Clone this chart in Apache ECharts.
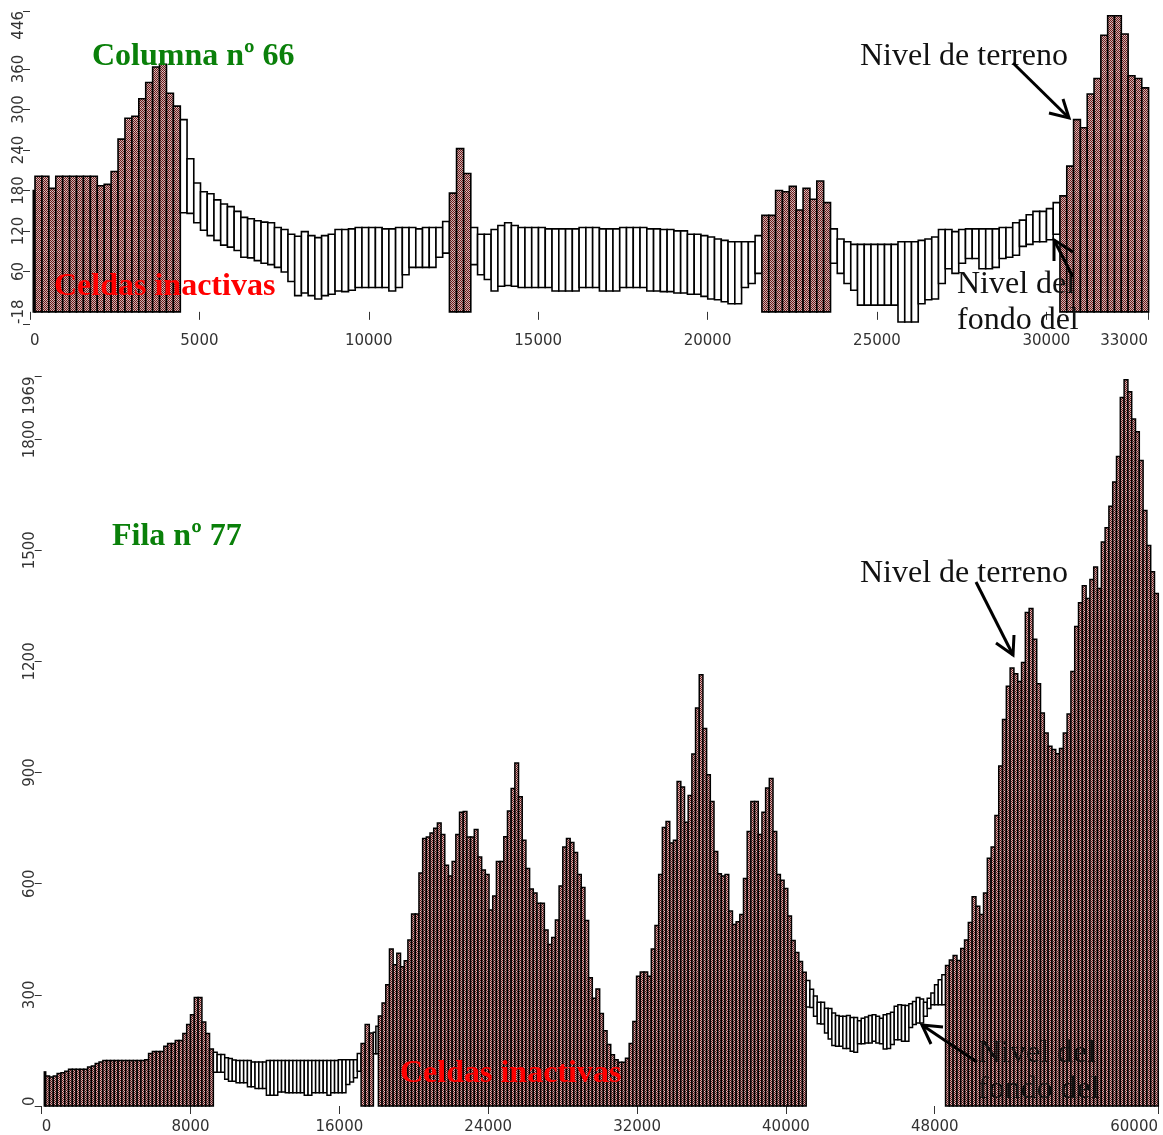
<!DOCTYPE html>
<html><head><meta charset="utf-8">
<style>html,body{margin:0;padding:0;background:#fff}#c{width:1163px;height:1135px}</style>
<script src="https://cdn.jsdelivr.net/npm/echarts@6/dist/echarts.min.js"></script>
</head><body><div id="c"></div>
<script>
// ---- Columna nº 66: cell limits (metres) and levels (m)
const columnaEdges = [97,148,4437,12380,13011,21603,23629,30401,33017];
const columnaA0 = [180];
const columnaA1 = [201,201,183,201,201,201,201,201,201,187,189,208,256,287,290,316,340,363,367,324,305];
const columnaW1Top = [285,227,191,178,175,166,160,156,149,140,138,135,133,132,125,122,115,112,119,113,110,113,115,122,122,123,125,125,125,125,123,123,125,125,125,123,125,125,125,134];
const columnaW1Bot = [147,146,132,121,113,106,99,96,91,81,80,76,72,70,66,59,45,24,28,24,19,24,26,31,30,32,36,36,36,36,36,31,36,55,66,66,66,66,81,87];
const columnaA2 = [176,242,205];
const columnaW2Top = [125,115,115,122,128,132,128,125,125,125,125,123,123,123,123,123,125,125,125,123,123,123,125,125,125,125,123,123,122,122,120,120,115,115,113,111,108,106,104,104,104,104,113];
const columnaW2Bot = [70,55,48,31,38,39,38,36,36,36,36,36,31,31,31,31,36,36,36,31,31,31,36,36,36,36,31,31,30,30,28,28,26,26,23,19,18,15,12,12,36,42,57];
const columnaA3 = [143,143,180,178,186,151,183,167,194,162];
const columnaW3Top = [123,108,104,100,100,100,100,100,100,100,104,104,104,106,108,111,122,122,119,122,123,123,123,123,123,125,125,132,136,144,149,149,153,162];
const columnaW3Bot = [72,57,42,32,10,10,10,10,10,10,-15,-15,-15,12,18,19,42,64,57,72,79,79,64,64,66,79,81,84,97,100,104,104,107,115];
const columnaA4 = [172,216,285,273,323,346,410,439,439,412,350,346,332];

// ---- Fila nº 77
const filaEdges = [140,215,9226,17167,17828,18097,41091,48581,60016];
const filaA0 = [92];
const filaA1 = [81,78,81,88,90,94,99,99,99,99,99,105,108,115,119,123,123,123,123,123,123,123,123,123,123,123,125,142,147,147,147,161,169,169,177,177,196,220,246,293,293,227,196,154];
const filaW1Top = [145,139,139,130,128,124,123,123,123,123,119,119,119,119,123,123,123,123,123,123,123,123,123,123,123,123,123,123,123,123,123,123,123,125,125,125,125,125,142];
const filaW1Bot = [91,91,91,72,67,67,63,63,63,52,52,47,47,47,29,29,29,38,38,36,36,36,36,36,29,29,36,36,36,36,29,36,36,36,36,58,65,76,94];
const filaA2 = [169,220,197];
const filaW2Top = [199,215];
const filaW2Bot = [141,141];
const filaA3 = [243,278,327,424,381,412,376,392,448,518,518,629,722,726,737,750,764,733,650,621,660,733,793,795,726,726,746,672,637,625,529,567,660,660,727,796,857,926,835,717,641,586,575,547,547,475,436,455,502,594,699,722,711,684,625,590,501,346,291,316,250,203,166,138,125,118,118,129,169,228,350,362,362,350,424,487,625,752,768,710,717,876,861,766,838,950,1074,1164,1019,894,822,687,627,621,625,526,490,497,517,614,741,822,822,733,793,858,884,741,625,609,587,513,447,414,390,361];
const filaW3Top = [339,315,297,280,280,264,263,251,244,242,242,244,239,239,230,237,240,244,246,242,237,246,249,253,269,273,272,271,276,282,293,289,280,291,305,327,341,354];
const filaW3Bot = [267,266,242,222,221,197,181,163,161,161,155,155,148,145,168,168,170,170,175,170,168,154,155,166,179,179,175,175,212,220,224,224,242,263,273,273,273,273];
const filaA4 = [379,394,406,393,425,448,495,565,539,517,575,669,699,784,918,1043,1133,1182,1167,1146,1197,1332,1343,1260,1140,1061,1007,971,962,951,965,1007,1058,1173,1294,1358,1404,1370,1421,1455,1397,1522,1561,1619,1684,1753,1912,1960,1928,1854,1820,1742,1607,1513,1442,1383];

const columnaXTicks = [0,5000,10000,15000,20000,25000,30000,33000];
const columnaYTicks = [-18,60,120,180,240,300,360,446];
const filaXTicks = [0,8000,16000,24000,32000,40000,48000,60000];
const filaYTicks = [0,300,600,900,1200,1500,1800,1969];

function cells(edges, segs){
  const out=[];
  segs.forEach((s,k)=>{
    const n=s.top.length, w=(edges[k+1]-edges[k])/n;
    for(let i=0;i<n;i++) out.push([edges[k]+i*w, edges[k]+(i+1)*w, s.top[i], s.bot?s.bot[i]:0, s.bot?0:1]);
  });
  return out;
}
const columnaData = cells(columnaEdges,[
  {top:columnaA0},{top:columnaA1},{top:columnaW1Top,bot:columnaW1Bot},{top:columnaA2},
  {top:columnaW2Top,bot:columnaW2Bot},{top:columnaA3},{top:columnaW3Top,bot:columnaW3Bot},{top:columnaA4}]);
const filaData = cells(filaEdges,[
  {top:filaA0},{top:filaA1},{top:filaW1Top,bot:filaW1Bot},{top:filaA2},{top:filaW2Top,bot:filaW2Bot},
  {top:filaA3},{top:filaW3Top,bot:filaW3Bot},{top:filaA4}]);

const pat=document.createElement('canvas');pat.width=4;pat.height=12;
const g=pat.getContext('2d');
for(let y=0;y<12;y++)for(let x=0;x<4;x++){
  g.fillStyle = (x+y)%2 ? '#c8b4b4' : '#701818';
  if(y===11 && x%2===0) g.fillStyle='#e0d6d6';
  g.fillRect(x,y,1,1);
}

function cellSeries(idx,data,lw){
  return {type:'custom',xAxisIndex:idx,yAxisIndex:idx,clip:false,silent:true,data,
    encode:{x:[0,1],y:[2,3]},
    renderItem(p,api){
      const a=api.coord([api.value(0),api.value(2)]), b=api.coord([api.value(1),api.value(3)]);
      const active=api.value(4)===1;
      return {type:'rect',shape:{x:a[0],y:a[1],width:b[0]-a[0],height:b[1]-a[1]},
        style:{fill:active?{image:pat,repeat:'repeat'}:'#ffffff',stroke:'#000',lineWidth:lw}};
    }};
}
const numFont={fontFamily:'DejaVu Sans',fontSize:15,color:'#333'};
function xAx(grid,max,ticks,off,margin){return {gridIndex:grid,type:'value',min:0,max,position:'bottom',offset:off,
  splitLine:{show:false},axisLine:{show:false},
  axisTick:{show:true,length:8,lineStyle:{color:'#333',width:1},customValues:ticks},
  axisLabel:Object.assign({show:true,customValues:ticks,margin,hideOverlap:false,showMinLabel:true,showMaxLabel:true,alignMinLabel:'left',alignMaxLabel:'right',formatter:v=>String(v)},numFont)};}
function yAx(grid,min,max,ticks,margin){return {gridIndex:grid,type:'value',min,max,
  splitLine:{show:false},axisLine:{show:false},
  axisTick:{show:true,length:7,lineStyle:{color:'#333',width:1},customValues:ticks},
  axisLabel:Object.assign({show:true,rotate:90,customValues:ticks,margin,hideOverlap:false,showMinLabel:true,showMaxLabel:true,alignMinLabel:'left',alignMaxLabel:'right',formatter:v=>String(v)},numFont)};}

function T(text,x,y,font,fill,va){return {type:'text',x,y,z:100,style:{text,font,fill,verticalAlign:va||'middle',align:'left'}};}
function arrow(pts,head1,head2){return [
  {type:'polyline',z:100,shape:{points:pts},style:{stroke:'#000',lineWidth:3,fill:null}},
  {type:'polyline',z:100,shape:{points:[head1,pts[pts.length-1],head2]},style:{stroke:'#000',lineWidth:3,fill:null}}];}
const serif='"Liberation Serif"';
const graphicEls=[
  T('Cortes de las Secciones del Modelo',303,2,'bold 33px '+serif,'#333','bottom'),
  T('Columna nº 66',92,57,'bold 32px '+serif,'#0a800a'),
  T('Celdas inactivas',54,287,'bold 32px '+serif,'#ff0000'),
  T('Nivel de terreno',860,57,'32px '+serif,'#111'),
  T('Nivel del',957,285,'32px '+serif,'#111'),
  T('fondo del',957,321,'32px '+serif,'#111'),
  T('Fila nº 77',112,537,'bold 32px '+serif,'#0a800a'),
  T('Nivel de terreno',860,574,'32px '+serif,'#111'),
  T('Celdas inactivas',400,1074,'bold 32px '+serif,'#ff0000'),
  T('Nivel del',978,1054,'32px '+serif,'#111'),
  T('fondo del',978,1090,'32px '+serif,'#111'),
  ...arrow([[1013,63],[1069,118]],[1049,113],[1063,99]),
  ...arrow([[1073,277],[1054,240]],[1073,252],[1054,261]),
  ...arrow([[976,582],[1013,655]],[996,643],[1014,635]),
  ...arrow([[977,1062],[922,1025]],[943,1027],[931,1044])
];

const chart=echarts.init(document.getElementById('c'),null,{renderer:'canvas'});
chart.setOption({
  animation:false,backgroundColor:'#fff',
  grid:[{left:30,top:11,width:1118,height:313},{left:41.7,top:376.5,width:1116.3,height:731.5}],
  xAxis:[xAx(0,33000,columnaXTicks,1,9),xAx(1,60000,filaXTicks,3,11)],
  yAxis:[yAx(0,-18,446,columnaYTicks,3),yAx(1,0,1969,filaYTicks,4)],
  series:[cellSeries(0,columnaData,1.6),cellSeries(1,filaData,1.5)],
  graphic:{elements:graphicEls}
});
</script></body></html>
